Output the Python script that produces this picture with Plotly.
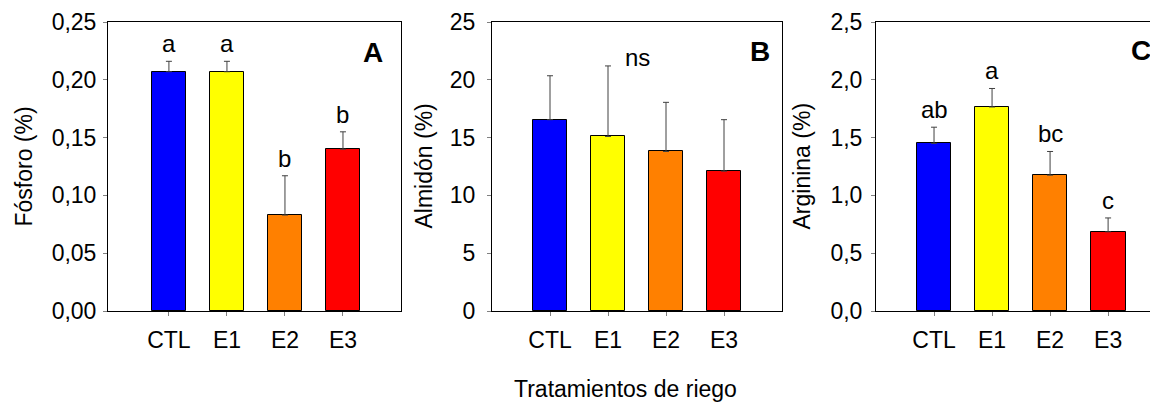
import plotly.graph_objects as go

categories = ["CTL", "E1", "E2", "E3"]
bar_colors = ["#0000FF", "#FFFF00", "#FF8000", "#FF0000"]

fosforo = [0.207, 0.207, 0.083, 0.140]
fosforo_err = [0.009, 0.009, 0.034, 0.015]
fosforo_letters = ["a", "a", "b", "b"]

almidon = [16.55, 15.1, 13.8, 12.1]
almidon_err = [3.8, 6.1, 4.25, 4.45]

arginina = [1.45, 1.765, 1.175, 0.685]
arginina_err = [0.14, 0.16, 0.205, 0.12]
arginina_letters = ["ab", "a", "bc", "c"]

# page body has an 8px margin; size the figure to the visible area
OFF = 8
W, H = 1158 - OFF, 403 - OFF
FONT = "Liberation Sans, Arial, sans-serif"
FS = 23

def px_x(p):
    return min(1.0, max(0.0, (p - OFF) / W))

def px_y(p):
    return min(1.0, max(0.0, (H - (p - OFF)) / H))

fig = go.Figure()

panels = [
    dict(vals=fosforo, err=fosforo_err, letters=fosforo_letters, ymax=0.25, dtick=0.05,
         fmt=".2f", dom=[108, 401], xr=[-1.05, 4.0], title="Fósforo (%)", tx=23, tag="A",
         standoff=2, mirror=True),
    dict(vals=almidon, err=almidon_err, letters=None, ymax=25, dtick=5,
         fmt="d", dom=[492, 782], xr=[-1.0, 4.0], title="Almidón (%)", tx=423, tag="B",
         standoff=7, mirror=True),
    dict(vals=arginina, err=arginina_err, letters=arginina_letters, ymax=2.5, dtick=0.5,
         fmt=".1f", dom=[876, 1158], xr=[-1.0, 3.86], title="Arginina (%)", tx=801, tag="C",
         standoff=4, mirror=False),
]

tag_px = [(372.5, 52), (760, 51), (1141, 50)]

y_dom = [px_y(311), px_y(22)]
annotations = []
for i, p in enumerate(panels, start=1):
    xa = "x" if i == 1 else f"x{i}"
    ya = "y" if i == 1 else f"y{i}"
    fig.add_trace(go.Bar(
        x=list(range(4)), y=p["vals"], width=0.6,
        marker=dict(color=bar_colors, line=dict(color="#000000", width=1)),
        error_y=dict(type="data", array=p["err"], arrayminus=[0] * 4, symmetric=False,
                     color="#404040", thickness=1, width=3),
        xaxis=xa, yaxis=ya, showlegend=False,
    ))
    lay_x = "xaxis" if i == 1 else f"xaxis{i}"
    lay_y = "yaxis" if i == 1 else f"yaxis{i}"
    fig.layout[lay_x] = dict(
        domain=[px_x(p["dom"][0]), px_x(p["dom"][1])],
        anchor=ya, range=p["xr"], tickmode="array", tickvals=list(range(4)),
        ticktext=categories, ticks="outside", ticklen=4, tickcolor="#808080",
        showline=True, linecolor="#000000", linewidth=1, mirror=True,
        showgrid=False, zeroline=False, ticklabelstandoff=4, automargin=False,
        tickfont=dict(family=FONT, size=FS, color="#000000"),
    )
    fig.layout[lay_y] = dict(
        domain=y_dom, anchor=xa, range=[0, p["ymax"]], dtick=p["dtick"], tick0=0,
        tickformat=p["fmt"], ticks="outside", ticklen=4, tickcolor="#808080",
        showline=True, linecolor="#000000", linewidth=1, mirror=p["mirror"],
        showgrid=False, zeroline=False, ticklabelstandoff=p["standoff"], automargin=False,
        tickfont=dict(family=FONT, size=FS, color="#000000"),
    )
    annotations.append(dict(
        text=p["title"], xref="paper", yref="paper", x=px_x(p["tx"]), y=px_y(166.5),
        xanchor="center", yanchor="middle", textangle=-90, showarrow=False,
        font=dict(family=FONT, size=FS, color="#000000"),
    ))
    tx, ty = tag_px[i - 1]
    annotations.append(dict(
        text="<b>%s</b>" % p["tag"], xref="paper", yref="paper", x=px_x(tx), y=px_y(ty),
        xanchor="center", yanchor="middle", showarrow=False,
        font=dict(family=FONT, size=28, color="#000000"),
    ))
    if p["letters"]:
        for j, lt in enumerate(p["letters"]):
            annotations.append(dict(
                text=lt, xref=xa, yref=ya, x=j, y=p["vals"][j] + p["err"][j],
                xanchor="center", yanchor="bottom", yshift=2, showarrow=False,
                font=dict(family=FONT, size=24, color="#000000"),
            ))

annotations.append(dict(
    text="ns", xref="x2", yref="y2", x=1.5, y=21.25, xanchor="center", yanchor="bottom",
    yshift=-8, showarrow=False, font=dict(family=FONT, size=24, color="#000000"),
))
annotations.append(dict(
    text="Tratamientos de riego", xref="paper", yref="paper", x=px_x(625), y=0,
    xanchor="center", yanchor="bottom", yshift=-1, showarrow=False,
    font=dict(family=FONT, size=FS, color="#000000"),
))

fig.update_layout(
    width=W, height=H, margin=dict(l=0, r=0, t=0, b=0, autoexpand=False),
    paper_bgcolor="#FFFFFF", plot_bgcolor="#FFFFFF",
    separators=",.", annotations=annotations, bargap=0,
    font=dict(family=FONT, size=FS, color="#000000"),
)

fig.write_html("out.html")
